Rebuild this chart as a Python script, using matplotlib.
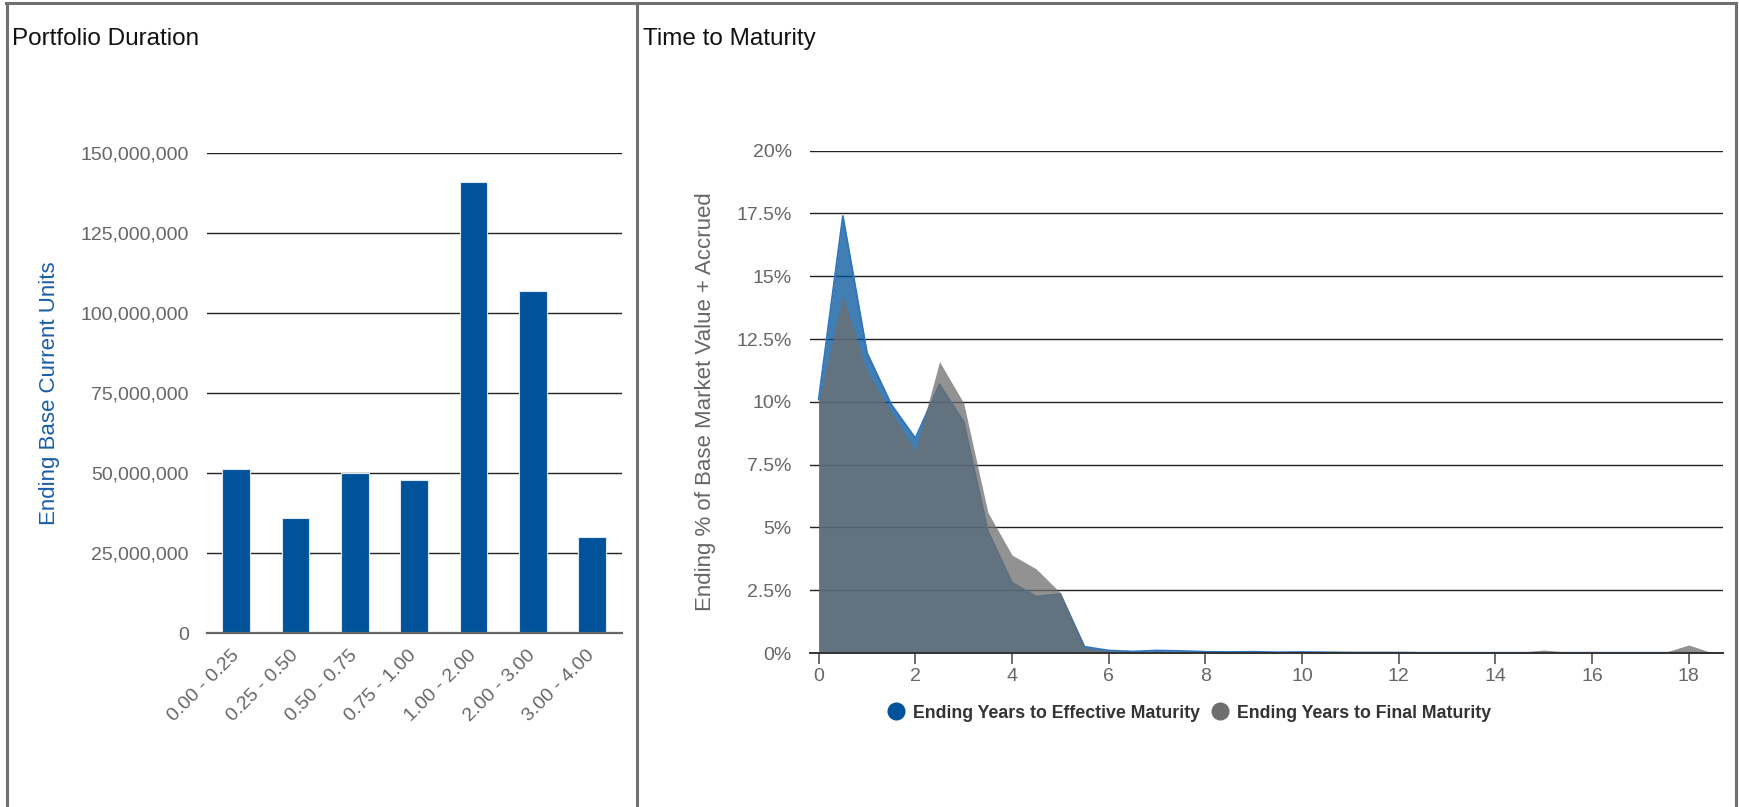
import matplotlib
matplotlib.use("Agg")
import matplotlib.pyplot as plt
from matplotlib.lines import Line2D
from matplotlib.ticker import FuncFormatter, MultipleLocator

# ---------------- data ----------------
duration_buckets = ["0.00 - 0.25", "0.25 - 0.50", "0.50 - 0.75", "0.75 - 1.00",
                    "1.00 - 2.00", "2.00 - 3.00", "3.00 - 4.00"]
duration_values = [51.2e6, 35.8e6, 49.9e6, 47.8e6, 141.0e6, 106.8e6, 29.9e6]

years = [0.0, 0.5, 1.0, 1.5, 2.0, 2.5, 3.0, 3.5, 4.0, 4.5,
         5.0, 5.5, 6.0, 6.5, 7.0, 7.5, 8.0, 8.5, 9.0, 9.5,
         10.0, 10.5, 11.0, 11.5, 12.0, 12.5, 13.0, 13.5, 14.0, 14.5,
         15.0, 15.5, 16.0, 16.5, 17.0, 17.5, 18.0, 18.5]
effective_pct = [10.1, 17.4, 11.95, 9.9, 8.55, 10.7, 9.2, 4.85, 2.8, 2.25,
                 2.35, 0.25, 0.1, 0.06, 0.1, 0.08, 0.05, 0.04, 0.05, 0.03,
                 0.04, 0.03, 0.02, 0.02, 0.02, 0.01, 0.01, 0.01, 0.01, 0.01,
                 0.01, 0.01, 0.01, 0.01, 0.01, 0.01, 0.01, 0.0]
final_pct = [10.0, 14.25, 11.2, 9.6, 8.05, 11.6, 9.95, 5.6, 3.9, 3.35,
             2.4, 0.2, 0.08, 0.05, 0.07, 0.05, 0.04, 0.03, 0.04, 0.02,
             0.03, 0.02, 0.02, 0.02, 0.02, 0.01, 0.01, 0.01, 0.02, 0.03,
             0.12, 0.03, 0.06, 0.05, 0.04, 0.02, 0.32, 0.0]

left_title = "Portfolio Duration"
right_title = "Time to Maturity"
left_ylabel = "Ending Base Current Units"
right_ylabel = "Ending % of Base Market Value + Accrued"
series_names = ["Ending Years to Effective Maturity", "Ending Years to Final Maturity"]

# ---------------- style ----------------
BLUE = "#00539B"
GRAY = "#6E6E6E"
TICK = "#666666"
FONT = ["Liberation Sans", "DejaVu Sans"]
plt.rcParams["font.family"] = FONT

W, H = 1739, 807
fig = plt.figure(figsize=(W / 100, H / 100), dpi=100)


def fx(px):
    return px / W


def fy(py):
    return 1 - py / H


# panel borders
bc = "#707070"
for (x0, y0, x1, y1) in [(6, 3, 1736, 3), (7, 3, 7, 807), (637, 3, 637, 807), (1736, 3, 1736, 807)]:
    fig.add_artist(Line2D([fx(x0), fx(x1)], [fy(y0), fy(y1)], color=bc, lw=2.2,
                          transform=fig.transFigure))

fig.text(fx(12), fy(39), left_title, fontsize=17.5, color="#111111", ha="left", va="center")
fig.text(fx(643), fy(39), right_title, fontsize=17.5, color="#111111", ha="left", va="center")

# ---------------- left: bars ----------------
axL = fig.add_axes([fx(206.7), fy(633), fx(621.7) - fx(206.7), fy(152.7) - fy(633)])
xpos = list(range(len(duration_buckets)))
axL.bar(xpos, duration_values, width=0.467, color=BLUE, edgecolor="#dfe8f2", linewidth=0.8, zorder=3)
axL.set_xlim(-0.5, len(duration_buckets) - 0.5)
axL.set_ylim(0, 150e6)
axL.yaxis.set_major_locator(MultipleLocator(25e6))
axL.yaxis.set_major_formatter(FuncFormatter(lambda v, p: f"{int(round(v)):,}"))
axL.grid(axis="y", color="#222222", lw=1.0, zorder=0)
for s in ["top", "right", "left"]:
    axL.spines[s].set_visible(False)
axL.spines["bottom"].set_color("#666666")
axL.spines["bottom"].set_linewidth(1.6)
axL.spines["bottom"].set_zorder(4)
axL.set_xticks(xpos)
axL.set_xticklabels(duration_buckets, rotation=45, ha="right", va="center",
                    rotation_mode="anchor")
axL.tick_params(axis="x", length=0, pad=14, labelsize=14, labelcolor=TICK)
axL.tick_params(axis="y", length=0, pad=13, labelsize=14, labelcolor=TICK)
axL.set_ylabel(left_ylabel, fontsize=16, color="#1a5ea8")
axL.yaxis.set_label_coords((60 - 206.7) / 415, 0.5)

# ---------------- right: areas ----------------
axR = fig.add_axes([fx(810), fy(653), fx(1723) - fx(810), fy(150.7) - fy(653)])
axR.fill_between(years, effective_pct, 0, color=BLUE, alpha=0.75, lw=0, zorder=2)
axR.plot(years, effective_pct, color="#2f74bd", lw=1.3, zorder=2.5)
axR.fill_between(years, final_pct, 0, color=GRAY, alpha=0.75, lw=0, zorder=3)
axR.set_xlim(-0.18, 18.71)
axR.set_ylim(0, 20)
axR.yaxis.set_major_locator(MultipleLocator(2.5))
axR.yaxis.set_major_formatter(FuncFormatter(lambda v, p: f"{v:g}%"))
axR.xaxis.set_major_locator(MultipleLocator(2))
axR.grid(axis="y", color="#222222", lw=1.0, zorder=0)
for s in ["top", "right", "left"]:
    axR.spines[s].set_visible(False)
axR.spines["bottom"].set_color("#333333")
axR.spines["bottom"].set_linewidth(1.4)
axR.spines["bottom"].set_zorder(4)
axR.tick_params(axis="x", length=8, width=1.2, color="#555555", pad=3, labelsize=14, labelcolor=TICK)
axR.tick_params(axis="y", length=0, pad=13, labelsize=14, labelcolor=TICK)
axR.set_ylabel(right_ylabel, fontsize=16, color=TICK)
axR.yaxis.set_label_coords((716 - 810) / 913, 0.5)

handles = [Line2D([], [], ls="none", marker="o", markersize=12, color=BLUE),
           Line2D([], [], ls="none", marker="o", markersize=12, color=GRAY)]
fig.legend(handles, series_names, loc="center", bbox_to_anchor=(fx(1189), fy(713)),
           ncol=2, frameon=False, handletextpad=0.45, columnspacing=0.6, handlelength=1.0,
           prop={"family": FONT, "weight": "bold", "size": 12.8}, labelcolor="#333333")

fig.savefig("out.png", dpi=100)
